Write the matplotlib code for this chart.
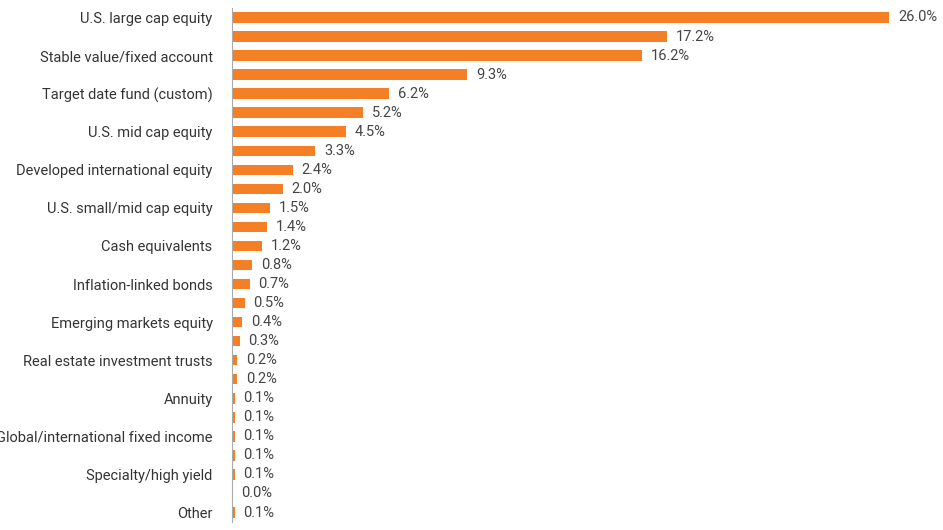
import matplotlib
matplotlib.use("Agg")
import matplotlib.pyplot as plt

plt.rcParams["font.family"] = ["Liberation Sans Narrow", "Roboto", "DejaVu Sans"]

categories = ["U.S. large cap equity", "", "Stable value/fixed account", "", "Target date fund (custom)", "",
              "U.S. mid cap equity", "", "Developed international equity", "", "U.S. small/mid cap equity", "",
              "Cash equivalents", "", "Inflation-linked bonds", "", "Emerging markets equity", "",
              "Real estate investment trusts", "", "Annuity", "", "Global/international fixed income", "",
              "Specialty/high yield", "", "Other"]
values = [26.0, 17.2, 16.2, 9.3, 6.2, 5.2, 4.5, 3.3, 2.4, 2.0, 1.5, 1.4, 1.2, 0.8, 0.7, 0.5, 0.4, 0.3,
          0.2, 0.2, 0.1, 0.1, 0.1, 0.1, 0.1, 0.0, 0.1]

fig = plt.figure(figsize=(9.43, 5.30), dpi=100)
ax = fig.add_axes([0.246, 0.015, 0.74, 0.97])
y = list(range(len(values)))
ax.barh(y, values, height=0.55, color="#F47F24")
for yi, v in zip(y, values):
    ax.text(v + 0.35, yi, f"{v:.1f}%", va="center", ha="left", fontsize=10.5, color="#444444")
ax.set_yticks(y)
ax.set_yticklabels(categories, fontsize=10.5, color="#333333")
ax.set_ylim(len(values) - 0.5, -0.5)
ax.set_xlim(0, 27.6)
ax.set_xticks([])
ax.tick_params(axis="y", length=0, pad=14)
for s in ["top", "right", "bottom"]:
    ax.spines[s].set_visible(False)
ax.spines["left"].set_color("#AAAAAA")
fig.savefig("out.png", dpi=100)
